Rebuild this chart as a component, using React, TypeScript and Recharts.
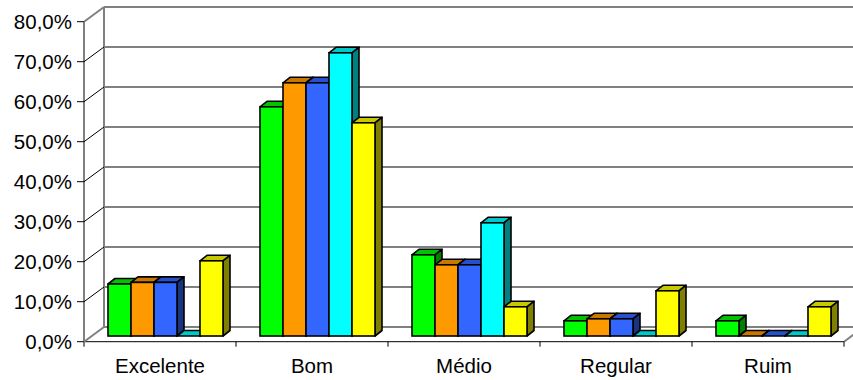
import React from 'react';
import { BarChart, Bar, XAxis, YAxis, CartesianGrid, Customized } from 'recharts';

const categories = ['Excelente', 'Bom', 'Médio', 'Regular', 'Ruim'];
const serieVerde = [13.0, 57.3, 20.3, 3.8, 3.8];
const serieLaranja = [13.4, 63.3, 17.8, 4.3, 0];
const serieAzul = [13.4, 63.3, 17.8, 4.3, 0];
const serieCiano = [0, 70.8, 28.3, 0, 0];
const serieAmarela = [18.8, 53.3, 7.3, 11.3, 7.3];
const yTicks = [0, 10, 20, 30, 40, 50, 60, 70, 80];

const series = [
  { key: 's1', values: serieVerde, face: '#00FF00', top: '#00C400', side: '#008000' },
  { key: 's2', values: serieLaranja, face: '#FF9900', top: '#C87800', side: '#804C00' },
  { key: 's3', values: serieAzul, face: '#3366FF', top: '#2850CC', side: '#1A3380' },
  { key: 's4', values: serieCiano, face: '#00FFFF', top: '#00C8C8', side: '#008080' },
  { key: 's5', values: serieAmarela, face: '#FFFF00', top: '#C8C800', side: '#808000' },
];

const data = categories.map((name, i) => {
  const row: Record<string, string | number> = { name };
  series.forEach((s) => {
    row[s.key] = s.values[i];
  });
  return row;
});

const W = 853;
const H = 380;
const FONT = '"Liberation Sans", Arial, sans-serif';
const FONT_SIZE = 20.5;
const GRAY = '#808080';

// layout: bar-face plane
const FACE_LEFT = 90;
const FACE_RIGHT = 850;
const FACE_TOP = 16;
const FACE_BOTTOM = 336;
// front plane offset and back wall offset relative to bar-face plane
const FRONT_DX = -6;
const FRONT_DY = 5.7;
const BACK_DX = 14;
const BACK_DY = -9;
// bar depth
const DEPTH_X = 7;
const DEPTH_Y = 5.5;

const Y_AXIS_W = 60;
const X_AXIS_H = 30;
const margin = {
  top: FACE_TOP,
  right: W - FACE_RIGHT,
  left: FACE_LEFT - Y_AXIS_W,
  bottom: H - FACE_BOTTOM - X_AXIS_H,
};
const BAND = (FACE_RIGHT - FACE_LEFT) / categories.length;

const fmt = (v: number) => v.toFixed(1).replace('.', ',') + '%';

const makeShape = (top: string, side: string) => (props: any) => {
  const { x, y, width, height, fill } = props;
  if (x == null || y == null) return <g />;
  const h = Math.max(0, height || 0);
  const yb = y + h;
  const sw = 1.6;
  return (
    <g>
      <polygon
        points={`${x},${y} ${x + DEPTH_X},${y - DEPTH_Y} ${x + width + DEPTH_X},${y - DEPTH_Y} ${x + width},${y}`}
        fill={top}
        stroke="#000"
        strokeWidth={sw}
        strokeLinejoin="round"
      />
      <polygon
        points={`${x + width},${y} ${x + width + DEPTH_X},${y - DEPTH_Y} ${x + width + DEPTH_X},${yb - DEPTH_Y} ${x + width},${yb}`}
        fill={side}
        stroke="#000"
        strokeWidth={sw}
        strokeLinejoin="round"
      />
      {h > 0 && (
        <rect x={x} y={y} width={width} height={h} fill={fill} stroke="#000" strokeWidth={sw} />
      )}
    </g>
  );
};

const YTick = (props: any) => {
  const { y, payload } = props;
  const v = payload.value as number;
  const fy = y + FRONT_DY;
  const fx = FACE_LEFT + FRONT_DX;
  const edge = v === yTicks[0] || v === yTicks[yTicks.length - 1];
  return (
    <g>
      <text
        x={fx - 12}
        y={fy}
        dy="0.36em"
        textAnchor="end"
        fontFamily={FONT}
        fontSize={FONT_SIZE}
        fill="#000"
      >
        {fmt(v)}
      </text>
      <line x1={fx - 7} y1={fy} x2={fx} y2={fy} stroke="#000" strokeWidth={1} />
      <line
        x1={fx}
        y1={fy}
        x2={FACE_LEFT + BACK_DX}
        y2={y + BACK_DY}
        stroke={edge ? GRAY : '#000'}
        strokeWidth={edge ? 2 : 1}
      />
    </g>
  );
};

const XTick = (props: any) => {
  const { x, payload, index } = props;
  const cx = x + FRONT_DX;
  const fy = FACE_BOTTOM + FRONT_DY;
  const last = index === categories.length - 1;
  return (
    <g>
      <line x1={cx - BAND / 2} y1={fy} x2={cx - BAND / 2} y2={fy + 5} stroke="#000" strokeWidth={1} />
      {last && (
        <line x1={cx + BAND / 2} y1={fy} x2={cx + BAND / 2} y2={fy + 5} stroke="#000" strokeWidth={1} />
      )}
      <text
        x={cx}
        y={373}
        textAnchor="middle"
        fontFamily={FONT}
        fontSize={FONT_SIZE}
        fill="#000"
      >
        {payload.value}
      </text>
    </g>
  );
};

const gridLine = (props: any) => {
  const { x1, x2, y1, index } = props;
  const edge = index === 0 || index === yTicks.length - 1;
  return (
    <line
      key={`g-${index}`}
      x1={x1 + BACK_DX}
      y1={y1 + BACK_DY}
      x2={x2 + BACK_DX + 20}
      y2={y1 + BACK_DY}
      stroke={edge ? GRAY : '#000'}
      strokeWidth={edge ? 2 : 1}
    />
  );
};

const Frame = () => {
  const fx0 = FACE_LEFT + FRONT_DX;
  const fx1 = FACE_RIGHT + FRONT_DX;
  const fyTop = FACE_TOP + FRONT_DY;
  const fyBot = FACE_BOTTOM + FRONT_DY;
  const bx0 = FACE_LEFT + BACK_DX;
  const bx1 = FACE_RIGHT + BACK_DX;
  const byTop = FACE_TOP + BACK_DY;
  const byBot = FACE_BOTTOM + BACK_DY;
  return (
    <g>
      <line x1={bx0} y1={byTop} x2={bx0} y2={byBot} stroke={GRAY} strokeWidth={2} />
      <line x1={fx0} y1={fyTop} x2={fx0} y2={fyBot} stroke="#000" strokeWidth={1} />
      <line x1={fx0} y1={fyBot} x2={fx1} y2={fyBot} stroke="#000" strokeWidth={1} />
      <line x1={fx1} y1={fyBot} x2={bx1} y2={byBot} stroke={GRAY} strokeWidth={2} />
    </g>
  );
};

export default function App() {
  return (
    <div style={{ position: 'absolute', left: 0, top: 0, width: W, height: H, background: '#fff' }}>
      <BarChart
        width={W}
        height={H}
        data={data}
        margin={margin}
        barCategoryGap={18}
        barGap={0}
      >
        <CartesianGrid vertical={false} horizontal={gridLine} />
        <Customized component={Frame} />
        <XAxis
          dataKey="name"
          height={X_AXIS_H}
          axisLine={false}
          tickLine={false}
          tick={<XTick />}
          interval={0}
        />
        <YAxis
          width={Y_AXIS_W}
          domain={[0, 80]}
          ticks={yTicks}
          axisLine={false}
          tickLine={false}
          tick={<YTick />}
          interval={0}
        />
        {series.map((s) => (
          <Bar
            key={s.key}
            dataKey={s.key}
            fill={s.face}
            isAnimationActive={false}
            shape={makeShape(s.top, s.side)}
          />
        ))}
      </BarChart>
    </div>
  );
}
